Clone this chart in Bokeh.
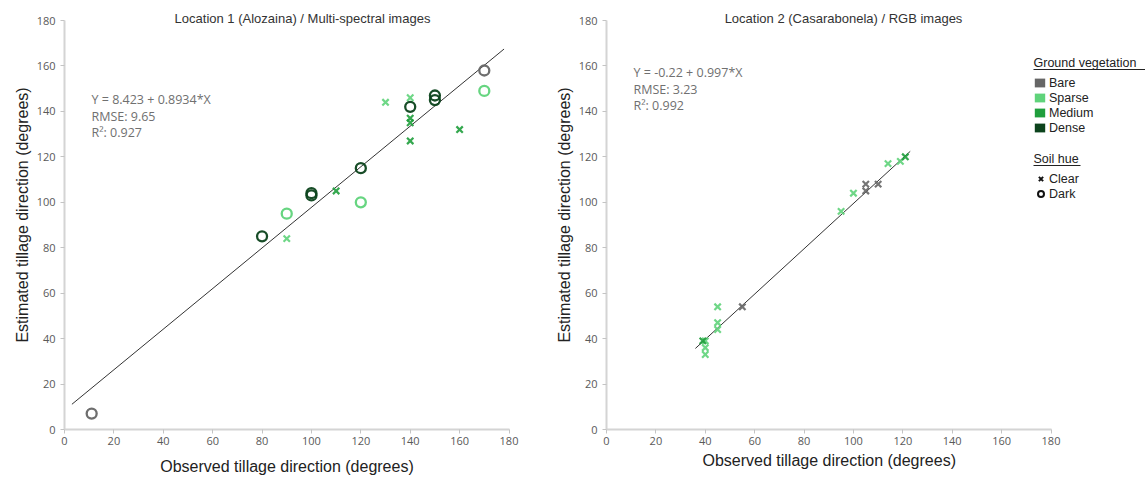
from bokeh.plotting import figure
from bokeh.layouts import row
from bokeh.models import Label, Legend, LegendItem, FixedTicker, ColumnDataSource, BoxAnnotation, Range1d, Title
from bokeh.embed import file_html
from bokeh.resources import INLINE

# ---------------- data ----------------
TICKS = [0, 20, 40, 60, 80, 100, 120, 140, 160, 180]

VEG_CLASSES = ["Bare", "Sparse", "Medium", "Dense"]
VEG_COLORS = ["#666666", "#5fd37a", "#1f9e3c", "#0c431c"]
SOIL_CLASSES = ["Clear", "Dark"]

# Location 1 (Alozaina) / Multi-spectral images
loc1_observed = [11, 80, 90, 90, 100, 100, 110, 120, 120, 130, 140, 140, 140, 140, 140, 150, 150, 160, 170, 170]
loc1_estimated = [7, 85, 95, 84, 103, 104, 105, 115, 100, 144, 146, 142, 137, 135, 127, 147, 145, 132, 158, 149]
loc1_veg = ["Bare", "Dense", "Sparse", "Sparse", "Dense", "Dense", "Medium", "Dense", "Sparse", "Sparse",
            "Sparse", "Dense", "Medium", "Medium", "Medium", "Dense", "Dense", "Medium", "Bare", "Sparse"]
loc1_soil = ["Dark", "Dark", "Dark", "Clear", "Dark", "Dark", "Clear", "Dark", "Dark", "Clear",
             "Clear", "Dark", "Clear", "Clear", "Clear", "Dark", "Dark", "Clear", "Dark", "Dark"]
loc1_fit = (8.423, 0.8934)
loc1_fit_x = [3, 178]
loc1_stats = ["Y = 8.423 + 0.8934*X", "RMSE: 9.65", "R\u00b2: 0.927"]
loc1_title = "Location 1 (Alozaina) / Multi-spectral images"

# Location 2 (Casarabonela) / RGB images
loc2_observed = [40, 40, 40, 39, 45, 45, 45, 55, 95, 100, 105, 105, 110, 114, 119, 121]
loc2_estimated = [39, 36, 33, 39, 54, 47, 44, 54, 96, 104, 108, 105, 108, 117, 118, 120]
loc2_veg = ["Sparse", "Sparse", "Sparse", "Medium", "Sparse", "Sparse", "Sparse", "Bare", "Sparse", "Sparse",
            "Bare", "Bare", "Bare", "Sparse", "Sparse", "Medium"]
loc2_soil = ["Clear"] * 16
loc2_fit = (-0.22, 0.997)
loc2_fit_x = [36, 123]
loc2_stats = ["Y = -0.22 + 0.997*X", "RMSE: 3.23", "R\u00b2: 0.992"]
loc2_title = "Location 2 (Casarabonela) / RGB images"

X_LABEL = "Observed tillage direction (degrees)"
Y_LABEL = "Estimated tillage direction (degrees)"

color_of = dict(zip(VEG_CLASSES, VEG_COLORS))
NAN = float("nan")

# ---------------- layout constants ----------------
PX_X = 444.5 / 180.0       # pixels per degree (x)
PX_Y = 409.0 / 180.0       # pixels per degree (y)
FRAME_H = 429              # frame reaches the top of the canvas
BOTTOM = 52
Y_TOP = FRAME_H / PX_Y     # a little headroom above 180 for the title


def make_plot(obs, est, veg, soil, fit, fit_x, stats, title, left_border, frame_w, right_border,
              stats_y, title_x, own_xlabel):
    p = figure(width=left_border + frame_w + right_border, height=FRAME_H + BOTTOM,
               x_range=Range1d(0, frame_w / PX_X), y_range=Range1d(0, Y_TOP),
               output_backend="svg", toolbar_location=None,
               min_border_left=left_border, min_border_right=right_border,
               min_border_top=0, min_border_bottom=BOTTOM)
    p.outline_line_color = None
    p.grid.visible = False
    p.background_fill_color = "white"
    for ax in (p.xaxis[0], p.yaxis[0]):
        ax.ticker = FixedTicker(ticks=TICKS)
        ax.bounds = (0, 180)
        ax.axis_line_color = "#d4d4d4"
        ax.axis_line_width = 2
        ax.major_tick_line_color = "#c4c4c4"
        ax.major_tick_out = 4
        ax.major_tick_in = 0
        ax.minor_tick_line_color = None
        ax.major_label_text_font = "Open Sans"
        ax.major_label_text_font_size = "11px"
        ax.major_label_text_color = "#595959"
        ax.axis_label_text_font = "Liberation Sans"
        ax.axis_label_text_font_size = "16px"
        ax.axis_label_text_font_style = "normal"
        ax.axis_label_text_color = "#222222"
    p.yaxis.axis_label = Y_LABEL
    p.xaxis.major_label_standoff = 3
    p.xaxis.axis_label_standoff = 10
    p.yaxis.major_label_standoff = 5
    p.yaxis.axis_label_standoff = 3
    if own_xlabel:
        p.xaxis.axis_label = X_LABEL
    else:
        p.add_layout(Title(text=X_LABEL, align="left", offset=96, text_font="Liberation Sans",
                           text_font_size="16px", text_font_style="normal", text_color="#222222",
                           standoff=4), "below")

    # regression line
    fy = [fit[0] + fit[1] * x for x in fit_x]
    p.line(fit_x, fy, line_color="#333333", line_width=1)

    # points
    colors = [color_of[v] for v in veg]
    for s in SOIL_CLASSES:
        idx = [i for i, v in enumerate(soil) if v == s]
        if not idx:
            continue
        src = ColumnDataSource(dict(x=[obs[i] for i in idx], y=[est[i] for i in idx],
                                    c=[colors[i] for i in idx]))
        if s == "Clear":
            p.scatter("x", "y", source=src, marker="x", size=9, line_color="c", line_width=2.2, line_alpha=0.9)
        else:
            p.scatter("x", "y", source=src, marker="circle", size=10, fill_color=None,
                      line_color="c", line_width=2.3, line_alpha=0.95)

    # title
    p.add_layout(Label(x=title_x, y=FRAME_H - 18, x_units="screen", y_units="screen", text=title,
                       text_align="center", text_baseline="middle", text_font="Liberation Sans",
                       text_font_size="13px", text_color="#333333"))
    # stats
    for k, t in enumerate(stats):
        p.add_layout(Label(x=27, y=stats_y - 16.5 * k, x_units="screen", y_units="screen", text=t,
                           text_align="left", text_baseline="middle", text_font="Open Sans",
                           text_font_size="12.5px", text_color="#707070"))
    return p


p1 = make_plot(loc1_observed, loc1_estimated, loc1_veg, loc1_soil, loc1_fit, loc1_fit_x, loc1_stats,
               loc1_title, 64, 445, 20, 330, 238, True)
p2 = make_plot(loc2_observed, loc2_estimated, loc2_veg, loc2_soil, loc2_fit, loc2_fit_x, loc2_stats,
               loc2_title, 77, 539, 0, 357, 237, False)

# ---------------- legends on right plot (key swatches only, no visible data) ----------------
veg_items = []
for name, col in zip(VEG_CLASSES, VEG_COLORS):
    r = p2.quad(left=[NAN], right=[NAN], bottom=[NAN], top=[NAN], fill_color=col, line_color=None)
    veg_items.append(LegendItem(label=name, renderers=[r]))
soil_x = p2.scatter(x=[NAN], y=[NAN], marker="x", size=8, line_color="#111111", line_width=2)
soil_o = p2.scatter(x=[NAN], y=[NAN], marker="circle", size=8, fill_color=None, line_color="#111111",
                    line_width=2)
soil_items = [LegendItem(label="Clear", renderers=[soil_x]), LegendItem(label="Dark", renderers=[soil_o])]


def style_legend(lg, gw, gh, standoff):
    lg.label_text_font = "Liberation Sans"
    lg.label_text_font_size = "12.5px"
    lg.label_text_color = "#222222"
    lg.glyph_width = gw
    lg.glyph_height = gh
    lg.label_height = 15
    lg.label_standoff = standoff
    lg.spacing = 0
    lg.padding = 0
    lg.margin = 0
    lg.border_line_color = None
    lg.background_fill_alpha = 0


lg1 = Legend(items=veg_items, location=(427, 294))
lg2 = Legend(items=soil_items, location=(427, 228))
style_legend(lg1, 13, 11, 3)
style_legend(lg2, 15, 15, 1)
p2.add_layout(lg1)
p2.add_layout(lg2)

for txt, ty, uw in (("Ground vegetation", 367, 112), ("Soil hue", 271, 47)):
    p2.add_layout(Label(x=427, y=ty, x_units="screen", y_units="screen", text=txt, text_align="left",
                        text_baseline="middle", text_font="Liberation Sans", text_font_size="12.5px",
                        text_color="#222222"))
    p2.add_layout(BoxAnnotation(left=427, right=427 + uw, top=ty - 6.5, bottom=ty - 7.5,
                                left_units="screen", right_units="screen", top_units="screen",
                                bottom_units="screen", fill_color="#222222", fill_alpha=1, line_color=None))

layout = row(p1, p2)
open("out.html", "w").write(file_html(layout, INLINE))
